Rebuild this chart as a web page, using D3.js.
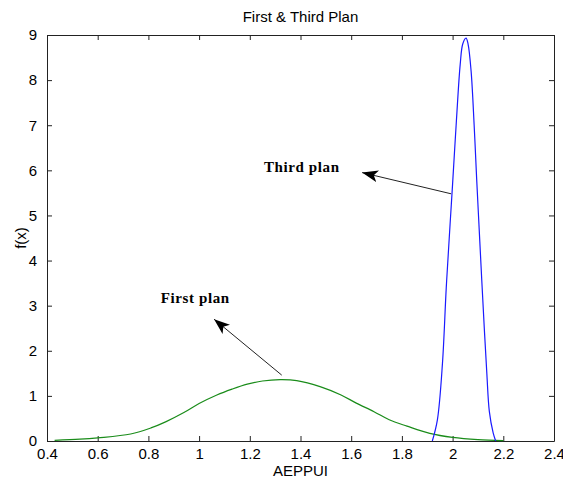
<!DOCTYPE html>
<html>
<head>
<meta charset="utf-8">
<script src="https://cdnjs.cloudflare.com/ajax/libs/d3/7.8.5/d3.min.js"></script>
<style>
  body { margin: 0; background: #fff; }
  svg { display: block; }
  .tick text { font-family: Arial, "Liberation Sans", sans-serif; }
</style>
</head>
<body>
<div id="chart"></div>
<script>
// chart size
const width = 563;
const height = 484;
const margin = { top: 35, right: 9, bottom: 43, left: 47 };

// data
const xTicks = [0.4, 0.6, 0.8, 1, 1.2, 1.4, 1.6, 1.8, 2, 2.2, 2.4];
const yTicks = [0, 1, 2, 3, 4, 5, 6, 7, 8, 9];

// First plan (green)
const firstX = [0.43, 0.53, 0.6, 0.73, 0.81, 0.87, 0.94, 1.0, 1.07, 1.13, 1.19, 1.25, 1.32, 1.385, 1.48, 1.56, 1.62, 1.69, 1.75, 1.82, 1.91, 2.0, 2.1, 2.2];
const firstY = [0.015, 0.04, 0.07, 0.155, 0.29, 0.43, 0.63, 0.83, 1.02, 1.15, 1.26, 1.33, 1.36, 1.34, 1.2, 1.02, 0.84, 0.65, 0.47, 0.33, 0.17, 0.08, 0.03, 0.01];

// Third plan (blue)
const thirdX = [1.92, 1.94, 1.96, 1.975, 1.99, 2.0, 2.015, 2.03, 2.04, 2.053, 2.061, 2.073, 2.085, 2.095, 2.105, 2.115, 2.125, 2.135, 2.145, 2.16, 2.17];
const thirdY = [0, 0.47, 1.72, 3.4, 4.8, 5.7, 7.1, 8.35, 8.8, 8.93, 8.8, 8.2, 7.0, 5.8, 4.68, 3.57, 2.5, 1.5, 0.65, 0.18, 0];

// annotations: label position and arrow [tail, head] in data units
const notes = [
  { text: "Third plan", x: 1.256, y: 5.96, from: [1.994, 5.48], to: [1.643, 5.95] },
  { text: "First plan", x: 0.849, y: 3.07, from: [1.326, 1.46], to: [1.059, 2.70] }
];

const svg = d3.select("#chart")
  .append("svg")
  .attr("width", width)
  .attr("height", height);

const x = d3.scaleLinear()
  .domain([0.4, 2.4])
  .range([margin.left, width - margin.right]);

const y = d3.scaleLinear()
  .domain([0, 9])
  .range([height - margin.bottom, margin.top]);

const fmt = d => String(d);

// axes, matlab style: ticks inward on all four sides
svg.append("g")
  .attr("transform", `translate(0,${height - margin.bottom})`)
  .call(d3.axisBottom(x).tickValues(xTicks).tickFormat(fmt).tickSizeInner(-5).tickSizeOuter(0).tickPadding(7))
  .call(g => g.selectAll("text").attr("font-size", 15).attr("fill", "#000"));

svg.append("g")
  .attr("transform", `translate(0,${margin.top})`)
  .call(d3.axisTop(x).tickValues(xTicks).tickFormat("").tickSizeInner(-5).tickSizeOuter(0));

svg.append("g")
  .attr("transform", `translate(${margin.left},0)`)
  .call(d3.axisLeft(y).tickValues(yTicks).tickFormat(fmt).tickSizeInner(-5).tickSizeOuter(0).tickPadding(10))
  .call(g => g.selectAll("text").attr("font-size", 15).attr("fill", "#000"));

svg.append("g")
  .attr("transform", `translate(${width - margin.right},0)`)
  .call(d3.axisRight(y).tickValues(yTicks).tickFormat("").tickSizeInner(-5).tickSizeOuter(0));

svg.selectAll(".domain").attr("stroke", "#222");
svg.selectAll(".tick line").attr("stroke", "#222");

// curves
const line = d3.line()
  .x(d => x(d[0]))
  .y(d => y(d[1]))
  .curve(d3.curveCatmullRom.alpha(0.5));

svg.append("path")
  .datum(d3.zip(firstX, firstY))
  .attr("d", line)
  .attr("fill", "none")
  .attr("stroke", "#1a8c1a")
  .attr("stroke-width", 1.2);

svg.append("path")
  .datum(d3.zip(thirdX, thirdY))
  .attr("d", line)
  .attr("fill", "none")
  .attr("stroke", "#1a1aff")
  .attr("stroke-width", 1.2);

// arrow head marker
svg.append("defs").append("marker")
  .attr("id", "arrow")
  .attr("viewBox", "0 0 16 12")
  .attr("refX", 16)
  .attr("refY", 6)
  .attr("markerWidth", 16)
  .attr("markerHeight", 12)
  .attr("markerUnits", "userSpaceOnUse")
  .attr("orient", "auto")
  .append("path")
  .attr("d", "M0,0 L16,6 L0,12 L4,6 Z")
  .attr("fill", "#000");

notes.forEach(n => {
  svg.append("line")
    .attr("x1", x(n.from[0])).attr("y1", y(n.from[1]))
    .attr("x2", x(n.to[0])).attr("y2", y(n.to[1]))
    .attr("stroke", "#222")
    .attr("stroke-width", 1)
    .attr("marker-end", "url(#arrow)");

  svg.append("text")
    .attr("x", x(n.x))
    .attr("y", y(n.y))
    .attr("font-family", "'Liberation Serif', 'Times New Roman', serif")
    .attr("font-weight", "bold")
    .attr("font-size", 15)
    .attr("letter-spacing", 0.6)
    .text(n.text);
});

// titles
svg.append("text")
  .attr("x", (margin.left + width - margin.right) / 2)
  .attr("y", 22)
  .attr("text-anchor", "middle")
  .attr("font-family", "Arial, 'Liberation Sans', sans-serif")
  .attr("font-size", 15)
  .text("First & Third Plan");

svg.append("text")
  .attr("x", (margin.left + width - margin.right) / 2)
  .attr("y", 476)
  .attr("text-anchor", "middle")
  .attr("font-family", "Arial, 'Liberation Sans', sans-serif")
  .attr("font-size", 15)
  .text("AEPPUI");

svg.append("text")
  .attr("transform", `translate(26,${(margin.top + height - margin.bottom) / 2}) rotate(-90)`)
  .attr("text-anchor", "middle")
  .attr("font-family", "Arial, 'Liberation Sans', sans-serif")
  .attr("font-size", 15)
  .text("f(x)");
</script>
</body>
</html>
